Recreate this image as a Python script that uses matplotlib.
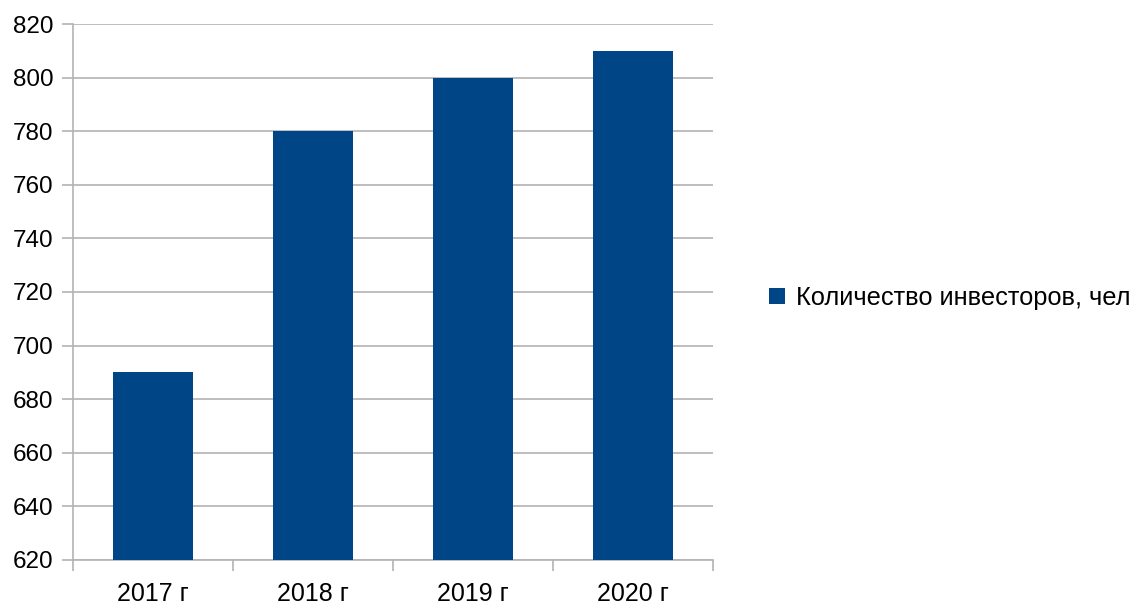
import matplotlib
matplotlib.use("Agg")
import matplotlib.pyplot as plt
from matplotlib.patches import Patch

categories = ["2017 г", "2018 г", "2019 г", "2020 г"]
values = [690, 780, 800, 810]
series_name = "Количество инвесторов, чел"
yticks = [620, 640, 660, 680, 700, 720, 740, 760, 780, 800, 820]

plt.rcParams['font.family'] = ['Liberation Sans', 'DejaVu Sans']
bar_color = "#004586"
grid_color = "#b3b3b3"

fig = plt.figure(figsize=(11.35, 6.08), dpi=100)
W, H = 1135, 608
ax = fig.add_axes([73 / W, (H - 560) / H, 640 / W, 536 / H])

x = list(range(len(categories)))
ax.bar(x, [v - yticks[0] for v in values], bottom=yticks[0], width=0.5,
       color=bar_color, zorder=3)

ax.set_ylim(yticks[0], yticks[-1])
ax.set_xlim(-0.5, len(categories) - 0.5)
ax.set_yticks(yticks)
ax.set_yticklabels([str(t) for t in yticks])
ax.set_xticks(x)
ax.set_xticklabels(categories)
ax.set_xticks([i - 0.5 for i in range(len(categories) + 1)], minor=True)

ax.grid(axis='y', color=grid_color, linewidth=1.2, zorder=0)
for s in ['top', 'right']:
    ax.spines[s].set_visible(False)
for s in ['left', 'bottom']:
    ax.spines[s].set_color(grid_color)
    ax.spines[s].set_linewidth(1.2)

ax.tick_params(axis='y', length=8, color=grid_color, width=1.2, pad=6,
               labelsize=17.5, labelcolor='black')
ax.tick_params(axis='x', which='major', length=0, pad=16, labelsize=18)
ax.tick_params(axis='x', which='minor', length=8, color=grid_color, width=1.2)

handle = Patch(facecolor=bar_color, edgecolor='none')
fig.legend([handle], [series_name], loc='center left',
           bbox_to_anchor=(769 / W, 1 - 298 / H), frameon=False,
           fontsize=18.3, handlelength=0.62, handleheight=0.62,
           handletextpad=0.45, borderaxespad=0, borderpad=0)

fig.savefig("out.png", dpi=100)
